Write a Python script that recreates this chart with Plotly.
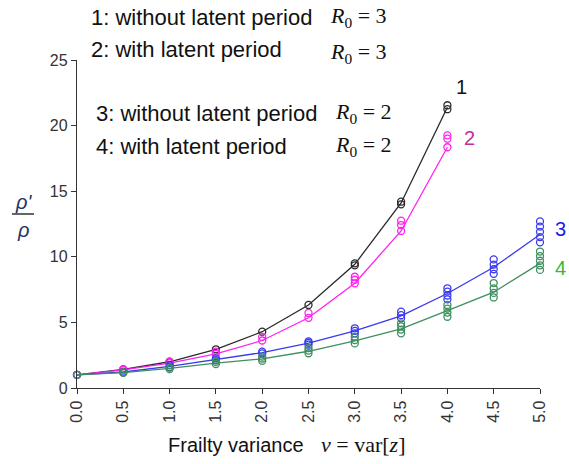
import plotly.graph_objects as go

# ---------------- data ----------------
x_vals = [0.0, 0.5, 1.0, 1.5, 2.0, 2.5, 3.0, 3.5, 4.0, 4.5, 5.0]
x_tick_labels = ["0.0", "0.5", "1.0", "1.5", "2.0", "2.5", "3.0", "3.5", "4.0", "4.5", "5.0"]
y_tick_vals = [0, 5, 10, 15, 20, 25]

# replicate points (circles) per x value
s1_points = [[1.0], [1.42], [2.0], [2.95], [4.29], [6.33], [9.35, 9.5], [14.0, 14.2], [21.25, 21.55]]
s1_line = [1.0, 1.42, 2.0, 2.95, 4.29, 6.33, 9.43, 14.1, 21.4]

s2_points = [[1.0], [1.38, 1.44], [1.9, 2.0], [2.6, 2.77], [3.62, 3.9], [5.35, 5.72],
             [7.98, 8.25, 8.48], [11.97, 12.42, 12.75], [18.35, 19.0, 19.26]]
s2_line = [1.0, 1.38, 1.9, 2.6, 3.62, 5.35, 7.98, 11.97, 18.35]

s3_points = [[1.0], [1.2, 1.25], [1.6, 1.75], [2.13, 2.26], [2.64, 2.77], [3.3, 3.45, 3.55],
             [4.17, 4.35, 4.55], [5.31, 5.55, 5.82], [6.75, 7.05, 7.35, 7.6],
             [8.7, 9.05, 9.4, 9.8], [11.1, 11.5, 11.9, 12.3, 12.7]]
s3_line = [1.0, 1.22, 1.65, 2.18, 2.7, 3.42, 4.35, 5.5, 7.2, 9.2, 11.7]

s4_points = [[1.0], [1.15, 1.2], [1.45, 1.55], [1.83, 2.0], [2.08, 2.25, 2.39], [2.65, 2.85, 3.05],
             [3.4, 3.65, 3.9], [4.17, 4.45, 4.7, 4.93], [5.43, 5.75, 6.05, 6.33],
             [6.9, 7.25, 7.6, 8.0], [9.0, 9.35, 9.7, 10.05, 10.4]]
s4_line = [1.0, 1.17, 1.5, 1.9, 2.22, 2.8, 3.6, 4.5, 5.9, 7.3, 9.5]

series = [
    ("1", s1_points, s1_line, "#2a2a2a", "#111111"),
    ("2", s2_points, s2_line, "#ff22ee", "#c0309a"),
    ("3", s3_points, s3_line, "#3a3aee", "#1a1aee"),
    ("4", s4_points, s4_line, "#3d8f5e", "#33bb33"),
]

legend_lines = ["1: without latent period", "2: with latent period",
                "3: without latent period", "4: with latent period"]
legend_r0 = ["3", "3", "2", "2"]

# ---------------- geometry ----------------
W, H = 569, 464
# plot area in window pixels: x 77..540, y 60..388
L, T = 77, 60
R = W - 540
B = H - 388
PW, PH = W - L - R, H - T - B


def px(xp):
    return (xp - L) / PW


def py(yp):
    return (H - B - yp) / PH


fig = go.Figure()

for name, pts, line, lc, tc in series:
    n = len(line)
    fig.add_trace(go.Scatter(x=x_vals[:n], y=line, mode="lines",
                             line=dict(color=lc, width=1.3), showlegend=False,
                             hoverinfo="skip", cliponaxis=False))
    xs, ys = [], []
    for xv, group in zip(x_vals, pts):
        for v in group:
            xs.append(xv)
            ys.append(v)
    fig.add_trace(go.Scatter(x=xs, y=ys, mode="markers",
                             marker=dict(symbol="circle-open", size=7, color=lc,
                                         line=dict(width=1.3, color=lc)),
                             showlegend=False, cliponaxis=False, name=name))

annotations = []
# series number labels
label_pos = {"1": (461, 87), "2": (469, 138), "3": (560, 229), "4": (560, 268)}
for name, pts, line, lc, tc in series:
    lx, ly = label_pos[name]
    annotations.append(dict(x=px(lx), y=py(ly), xref="paper", yref="paper", text=name,
                            showarrow=False, xanchor="center", yanchor="middle",
                            font=dict(family="Liberation Sans, Arial", size=20, color=tc)))

# legend-like texts
leg_pos = [(89, 17, 328, 17), (89, 50, 328, 53), (94, 113, 333, 113), (94, 146, 333, 146)]
for txt, r0, (tx, ty, rx, ry) in zip(legend_lines, legend_r0, leg_pos):
    annotations.append(dict(x=px(tx), y=py(ty), xref="paper", yref="paper", text=txt,
                            showarrow=False, xanchor="left", yanchor="middle",
                            font=dict(family="Liberation Sans, Arial", size=22, color="#111111")))
    annotations.append(dict(x=px(rx), y=py(ry), xref="paper", yref="paper",
                            text="<i>R</i><sub>0</sub> = " + r0,
                            showarrow=False, xanchor="left", yanchor="middle",
                            font=dict(family="Liberation Serif, Times New Roman", size=22, color="#111111")))

# x-axis title
annotations.append(dict(x=px(166), y=py(445), xref="paper", yref="paper", text="Frailty variance",
                        showarrow=False, xanchor="left", yanchor="middle",
                        font=dict(family="Liberation Sans, Arial", size=20, color="#111111")))
annotations.append(dict(x=px(319), y=py(444), xref="paper", yref="paper",
                        text="<i>v</i> = var[<i>z</i>]",
                        showarrow=False, xanchor="left", yanchor="middle",
                        font=dict(family="Liberation Serif, Times New Roman", size=22, color="#111111")))

# y-axis title fraction rho'/rho
annotations.append(dict(x=px(23), y=py(202), xref="paper", yref="paper", text="<i>ρ'</i>",
                        showarrow=False, xanchor="center", yanchor="middle",
                        font=dict(family="Liberation Sans, Arial", size=20, color="#1f3566")))
annotations.append(dict(x=px(23), y=py(230), xref="paper", yref="paper", text="<i>ρ</i>",
                        showarrow=False, xanchor="center", yanchor="middle",
                        font=dict(family="Liberation Sans, Arial", size=20, color="#1f3566")))

shapes = [dict(type="line", xref="paper", yref="paper", x0=px(12), x1=px(34),
               y0=py(214), y1=py(214), line=dict(color="#333333", width=1.5))]

fig.update_layout(
    width=W, height=H,
    margin=dict(l=L, r=R, t=T, b=B),
    paper_bgcolor="white", plot_bgcolor="white",
    showlegend=False,
    annotations=annotations,
    shapes=shapes,
    xaxis=dict(range=[0, 5], tickvals=x_vals, ticktext=x_tick_labels, tickangle=-90,
               showline=True, linecolor="#333333", linewidth=1.3, showgrid=False, zeroline=False,
               ticks="outside", ticklen=5, tickcolor="#333333", tickwidth=1.3,
               tickfont=dict(family="Liberation Sans, Arial", size=16, color="#333333")),
    yaxis=dict(range=[0, 25], tickvals=y_tick_vals,
               showline=True, linecolor="#333333", linewidth=1.3, showgrid=False, zeroline=False,
               ticks="outside", ticklen=5, tickcolor="#333333", tickwidth=1.3,
               tickfont=dict(family="Liberation Sans, Arial", size=16, color="#333333")),
)

fig.write_html("out.html", config={"displayModeBar": False},
               post_script="document.body.style.margin='0px';document.body.style.overflow='hidden';")
